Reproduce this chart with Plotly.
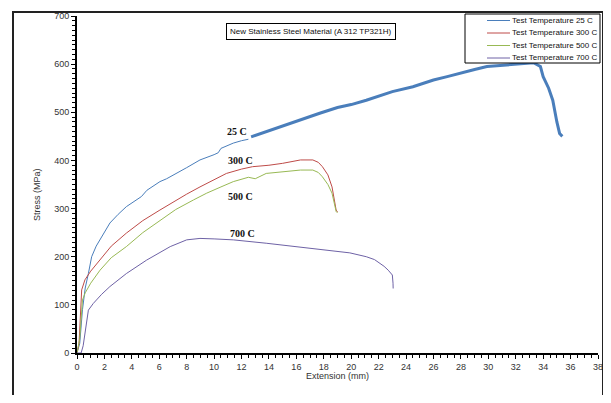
import plotly.graph_objects as go

# ---- data ----
t25_x = [0, 0.2, 0.4, 0.6, 0.83, 1.07, 1.4, 1.68, 2.4, 3.0, 3.6, 4.7, 5.1, 6.05, 6.54,
         8.0, 8.97, 10.0, 10.3, 10.5, 11.4, 12.0, 12.5]
t25_y = [0, 20, 90, 135, 165, 200, 222, 235, 270, 288, 304, 325, 338, 356, 362,
         385, 401, 412, 416, 425, 436, 441, 444]
t25b_x = [12.7, 14.0, 15.0, 16.3, 17.7, 19.0, 20.0, 21.1, 22.0, 23.0, 24.5, 26.0, 27.0,
          28.0, 29.0, 29.9, 31.0, 32.0, 32.8, 33.3, 33.8, 34.0, 34.4, 34.7, 35.0, 35.2, 35.4]
t25b_y = [449, 462, 472, 484, 498, 510, 516, 525, 534, 543, 553, 567, 574,
          582, 589, 595, 598, 600, 602, 603, 595, 574, 550, 525, 480, 456, 450]

t300_x = [0, 0.15, 0.34, 0.58, 1.0, 1.68, 2.5, 3.6, 4.8, 6.05, 6.8, 8.0, 8.97, 10.0, 10.9,
          12.0, 12.8, 14.0, 15.0, 16.3, 17.2, 17.6, 17.9, 18.3, 18.6, 18.9, 19.0]
t300_y = [0, 20, 131, 152, 170, 193, 222, 249, 275, 297, 310, 330, 345, 360, 373,
          382, 387, 390, 394, 401, 401, 396, 387, 370, 345, 297, 293]

t500_x = [0, 0.2, 0.4, 0.6, 1.0, 1.68, 2.5, 3.6, 4.8, 6.05, 7.2, 8.5, 9.46, 10.5, 11.4,
          12.5, 13.0, 13.8, 15.0, 16.3, 17.2, 17.6, 17.9, 18.3, 18.6, 18.9, 19.0]
t500_y = [0, 30, 110, 125, 145, 172, 198, 221, 250, 276, 298, 318, 332, 345, 356,
          365, 362, 373, 377, 380, 380, 375, 366, 350, 332, 294, 291]

t700_x = [0, 0.3, 0.45, 0.58, 0.75, 0.83, 1.19, 1.8, 2.4, 3.6, 5.08, 6.8, 8.0, 8.97, 10.0,
          11.4, 13.8, 16.3, 17.7, 19.9, 21.1, 21.7, 22.1, 22.4, 22.7, 23.0, 23.05, 23.06]
t700_y = [0, 0, 15, 41, 80, 89, 103, 122, 138, 165, 193, 221, 235, 238, 237,
          235, 228, 220, 215, 208, 200, 194, 186, 180, 172, 162, 145, 134]

series_names = ["Test Temperature 25 C", "Test Temperature 300 C",
                "Test Temperature 500 C", "Test Temperature 700 C"]
label_text = ["25 C", "300 C", "500 C", "700 C"]
label_x = [11.7, 11.9, 11.9, 12.1]
label_y = [460, 399, 326, 249]

x_ticks = list(range(0, 40, 2))
y_ticks = list(range(0, 800, 100))

colors = ["#4A7EBB", "#BE4B48", "#98B954", "#6E62A6"]

fig = go.Figure()
fig.add_trace(go.Scatter(x=t25_x, y=t25_y, mode="lines", name=series_names[0],
                         line=dict(color=colors[0], width=1), legendgroup="a"))
fig.add_trace(go.Scatter(x=t25b_x, y=t25b_y, mode="lines", name=series_names[0],
                         line=dict(color=colors[0], width=3), legendgroup="a",
                         showlegend=False))
fig.add_trace(go.Scatter(x=t300_x, y=t300_y, mode="lines", name=series_names[1],
                         line=dict(color=colors[1], width=1)))
fig.add_trace(go.Scatter(x=t500_x, y=t500_y, mode="lines", name=series_names[2],
                         line=dict(color=colors[2], width=1)))
fig.add_trace(go.Scatter(x=t700_x, y=t700_y, mode="lines", name=series_names[3],
                         line=dict(color=colors[3], width=1)))

for t, lx, ly in zip(label_text, label_x, label_y):
    fig.add_annotation(x=lx, y=ly, text="<b>%s</b>" % t, showarrow=False,
                       font=dict(family="Liberation Serif", size=10, color="#111"))

tick_font = dict(family="Liberation Sans", size=9, color="#333")

fig.update_xaxes(range=[0, 38], tickvals=x_ticks, ticktext=[str(v) for v in x_ticks],
                 showgrid=False, zeroline=False, showline=True, linecolor="black",
                 linewidth=2, ticks="outside", ticklen=4, tickcolor="black",
                 tickfont=tick_font,
                 minor=dict(dtick=0.5, ticks="outside", ticklen=3, tickcolor="black"))
fig.update_yaxes(range=[0, 700], tickvals=y_ticks, ticktext=[str(v) for v in y_ticks],
                 showgrid=False, zeroline=False, showline=True, linecolor="black",
                 linewidth=2, ticks="outside", ticklen=4, tickcolor="black",
                 tickfont=tick_font,
                 minor=dict(dtick=10, ticks="outside", ticklen=3, tickcolor="black"))

# helpers: page pixel -> paper fraction (plot area spans page px 77..598, 16..353)
W, H = 521.0, 337.0
def px_x(p):
    return (p - 77) / W
def px_y(p):
    return (353 - p) / H

# axis titles
fig.add_annotation(xref="paper", yref="paper", x=px_x(337), y=px_y(383), text="Extension (mm)",
                   showarrow=False, font=dict(family="Liberation Sans", size=9, color="#333"))
fig.add_annotation(xref="paper", yref="paper", x=px_x(30), y=px_y(195), text="Stress (MPa)",
                   textangle=-90, showarrow=False,
                   font=dict(family="Liberation Sans", size=9, color="#333"))
# chart title box
fig.add_annotation(xref="paper", yref="paper", x=px_x(311), y=px_y(23),
                   text="New Stainless Steel Material (A 312 TP321H)", showarrow=False,
                   font=dict(family="Liberation Sans", size=8, color="#111"),
                   bordercolor="black", borderwidth=1, borderpad=3, bgcolor="white")

# compact legend box (drawn to match the reference spacing)
fig.add_shape(type="rect", xref="paper", yref="paper",
              x0=px_x(465), x1=px_x(600), y0=px_y(63), y1=px_y(14),
              line=dict(color="black", width=1), fillcolor="white", layer="above")
for i, (nm, c) in enumerate(zip(series_names, colors)):
    yy = 20.5 + 12.5 * i
    fig.add_shape(type="line", xref="paper", yref="paper",
                  x0=px_x(487), x1=px_x(510), y0=px_y(yy), y1=px_y(yy),
                  line=dict(color=c, width=1), layer="above")
    fig.add_annotation(xref="paper", yref="paper", x=px_x(510), y=px_y(yy),
                       xanchor="left", yanchor="middle", text=nm, showarrow=False,
                       font=dict(family="Liberation Sans", size=8, color="#111"))

# outer frame
frame = dict(type="line", xref="paper", yref="paper", line=dict(color="#222", width=2),
             layer="above")
fig.add_shape(x0=px_x(13), x1=px_x(13), y0=px_y(420), y1=px_y(12), **frame)
fig.add_shape(x0=px_x(603), x1=px_x(603), y0=px_y(420), y1=px_y(12), **frame)
fig.add_shape(x0=px_x(12), x1=px_x(604), y0=px_y(12), y1=px_y(12), **frame)

# page has an 8px body margin, so the figure is offset by 8px and kept inside the window
fig.update_layout(
    width=603, height=387,
    margin=dict(l=69, r=13, t=8, b=42, autoexpand=False),
    paper_bgcolor="white", plot_bgcolor="white",
    showlegend=False,
)

fig.write_html("out.html")
